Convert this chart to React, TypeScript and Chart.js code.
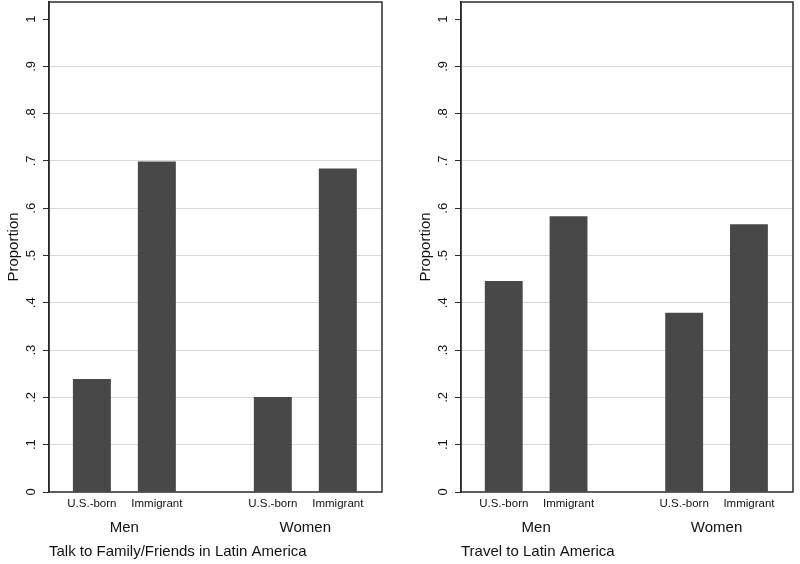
import React, { useEffect, useRef } from "react";
import { Chart, registerables } from "chart.js";

Chart.register(...registerables);

// ---- Data ----
const GROUPS = ["Men", "Women"];
const ORIGINS = ["U.S.-born", "Immigrant"];
const TALK_VALUES = [0.239, 0.699, 0.201, 0.684]; // Men US-born, Men Immigrant, Women US-born, Women Immigrant
const TRAVEL_VALUES = [0.446, 0.583, 0.379, 0.566];
const PANEL_TITLES = ["Talk to Family/Friends in Latin America", "Travel to Latin America"];
const Y_TICKS = [0, 0.1, 0.2, 0.3, 0.4, 0.5, 0.6, 0.7, 0.8, 0.9, 1];
const Y_TITLE = "Proportion";

// ---- Layout/style constants ----
const FONT = '"Liberation Sans", Arial, Helvetica, sans-serif';
const GROUP_STEP = 2.785; // slot units between groups
const BAR_COLOR = "#484848";
const FRAME_COLOR = "#2b2b2b";
const GRID_COLOR = "#d9d9d9";

const barPos = (g: number, s: number) => g * GROUP_STEP + s;

const framePlugin = {
  id: "frame",
  afterDraw(chart: any) {
    const { ctx, chartArea: a } = chart;
    ctx.save();
    ctx.strokeStyle = FRAME_COLOR;
    ctx.lineWidth = 1.5;
    ctx.strokeRect(a.left, a.top, a.right - a.left, a.bottom - a.top);
    ctx.restore();
  },
};

function zeroPad(scale: any) {
  scale.paddingTop = 0;
  scale.paddingBottom = 0;
  scale.paddingLeft = 0;
  scale.paddingRight = 0;
}

function makeConfig(values: number[], title: string, padLeft: number, padRight: number): any {
  const points: { x: number; y: number }[] = [];
  const tickPositions: number[] = [];
  GROUPS.forEach((_, g) => {
    ORIGINS.forEach((_, s) => {
      const x = barPos(g, s);
      points.push({ x, y: values[g * ORIGINS.length + s] });
      tickPositions.push(x);
    });
  });
  const groupCenters = GROUPS.map((_, g) => (barPos(g, 0) + barPos(g, ORIGINS.length - 1)) / 2);
  const xMin = -0.66;
  const xMax = barPos(GROUPS.length - 1, ORIGINS.length - 1) + 0.68;

  return {
    type: "bar",
    data: {
      datasets: [
        {
          data: points,
          backgroundColor: BAR_COLOR,
          borderWidth: 0,
          barPercentage: 38 / 65,
          categoryPercentage: 1,
        },
      ],
    },
    options: {
      animation: false,
      responsive: false,
      events: [],
      layout: { padding: { top: 2, left: padLeft, right: padRight, bottom: 0 } },
      plugins: { legend: { display: false }, tooltip: { enabled: false } },
      scales: {
        x: {
          type: "linear",
          position: "bottom",
          offset: false,
          min: xMin,
          max: xMax,
          grid: { display: false, drawTicks: false, offset: false },
          border: { display: false },
          afterBuildTicks: (scale: any) => {
            scale.ticks = tickPositions.map((v) => ({ value: v }));
          },
          afterFit: (scale: any) => {
            scale.height = 22;
            zeroPad(scale);
          },
          ticks: {
            autoSkip: false,
            maxRotation: 0,
            minRotation: 0,
            padding: 5,
            color: "#111",
            font: { family: FONT, size: 11.5 },
            callback: (_v: any, i: number) => ORIGINS[i % ORIGINS.length],
          },
        },
        x2: {
          type: "linear",
          position: "bottom",
          offset: false,
          min: xMin,
          max: xMax,
          grid: { display: false, drawTicks: false, offset: false },
          border: { display: false },
          afterBuildTicks: (scale: any) => {
            scale.ticks = groupCenters.map((v) => ({ value: v }));
          },
          afterFit: (scale: any) => {
            scale.height = 50;
            zeroPad(scale);
          },
          ticks: {
            autoSkip: false,
            maxRotation: 0,
            minRotation: 0,
            padding: 5,
            color: "#111",
            font: { family: FONT, size: 15 },
            callback: (_v: any, i: number) => GROUPS[i],
          },
          title: {
            display: true,
            text: title,
            align: "start",
            color: "#111",
            font: { family: FONT, size: 15 },
            padding: { top: 0, bottom: 3 },
          },
        },
        y: {
          type: "linear",
          position: "left",
          min: 0,
          max: 1.036,
          afterBuildTicks: (scale: any) => {
            scale.ticks = Y_TICKS.map((v) => ({ value: v }));
          },
          afterFit: (scale: any) => {
            scale.width = 49;
            zeroPad(scale);
          },
          grid: {
            color: (ctx: any) =>
              ctx.tick && ctx.tick.value > 0 && ctx.tick.value < 1 ? GRID_COLOR : "rgba(0,0,0,0)",
            lineWidth: 1,
            tickColor: FRAME_COLOR,
            tickLength: 6,
            tickWidth: 1,
            drawOnChartArea: true,
          },
          border: { display: true, color: FRAME_COLOR, width: 1.5 },
          ticks: {
            minRotation: 90,
            maxRotation: 90,
            crossAlign: "center",
            padding: 6,
            color: "#111",
            font: { family: FONT, size: 13 },
            callback: (v: any) => {
              const n = Number(v);
              if (n === 0) return "0";
              if (n === 1) return "1";
              return n.toFixed(1).replace(/^0/, "");
            },
          },
          title: {
            display: true,
            text: Y_TITLE,
            color: "#111",
            font: { family: FONT, size: 15 },
            padding: { top: 5, bottom: 0 },
          },
        },
      },
    },
    plugins: [framePlugin],
  };
}

function Panel({ values, title, left, padLeft, padRight }: any) {
  const ref = useRef<HTMLCanvasElement | null>(null);
  useEffect(() => {
    if (!ref.current) return;
    const chart = new Chart(ref.current, makeConfig(values, title, padLeft, padRight));
    return () => chart.destroy();
  }, [values, title, padLeft, padRight]);
  return (
    <canvas
      ref={ref}
      width={400}
      height={564}
      style={{ position: "absolute", left, top: 0, width: 400, height: 564, display: "block" }}
    />
  );
}

export default function App() {
  return (
    <div
      style={{
        position: "absolute",
        left: 0,
        top: 0,
        width: 800,
        height: 564,
        overflow: "hidden",
        background: "#fff",
      }}
    >
      <Panel values={TALK_VALUES} title={PANEL_TITLES[0]} left={0} padLeft={0} padRight={18} />
      <Panel values={TRAVEL_VALUES} title={PANEL_TITLES[1]} left={400} padLeft={12} padRight={7} />
    </div>
  );
}
